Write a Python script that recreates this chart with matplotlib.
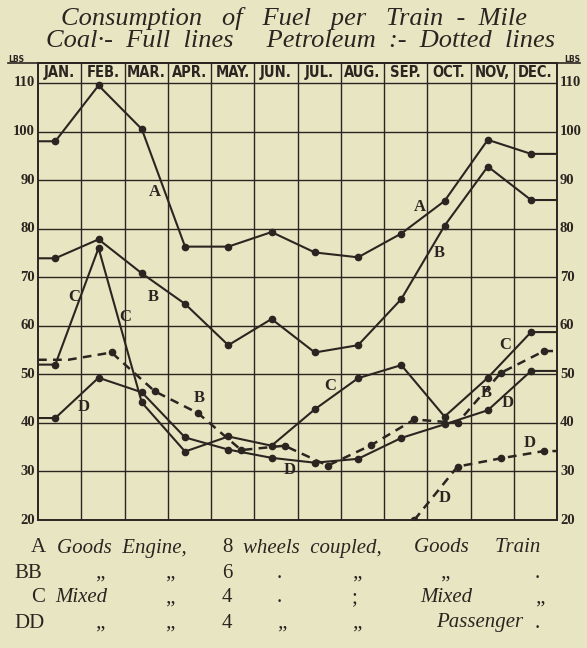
import matplotlib

matplotlib.use("Agg")
import matplotlib.pyplot as plt
import numpy as np

W, H = 587, 648
PAPER = "#e8e6c2"
INK = "#2a2521"

MONTHS = ["JAN.", "FEB.", "MAR.", "APR.", "MAY.", "JUN.",
          "JUL.", "AUG.", "SEP.", "OCT.", "NOV,", "DEC."]
Y_TICKS = [20, 30, 40, 50, 60, 70, 80, 90, 100, 110]

# coal, lbs per train-mile
coal_a = [98.0, 109.5, 100.5, 76.3, 76.3, 79.3, 75.1, 74.1, 79.0, 85.7, 98.3, 95.4]
coal_b = [73.9, 77.8, 70.8, 64.5, 56.0, 61.4, 54.5, 56.0, 65.5, 80.6, 92.8, 85.9]
coal_c = [52.0, 76.0, 44.2, 34.1, 37.2, 35.3, 42.8, 49.2, 51.9, 41.3, 49.3, 58.7]
coal_d = [41.0, 49.3, 46.3, 37.0, 34.5, 32.8, 31.8, 32.6, 36.9, 39.7, 42.6, 50.7]
# petroleum, lbs per train-mile
petrol_b = [53.0, 54.5, 46.5, 42.0, 34.4, 35.3, 31.2, 35.4, 40.7, 40.0, 50.3, 54.8]
petrol_d_months = ["SEP.", "OCT.", "NOV,", "DEC."]
petrol_d = [20.0, 31.0, 32.7, 34.2]

plt.rcParams["font.family"] = ["Liberation Serif", "DejaVu Serif"]

fig = plt.figure(figsize=(W / 100, H / 100), dpi=100, facecolor=PAPER)


def fx(px):
    return px / W


def fy(py):
    return 1 - py / H


ax = fig.add_axes([fx(38), fy(520), (557 - 38) / W, (520 - 63) / H])
ax.set_facecolor(PAPER)
ax.set_xlim(0, 12)
ax.set_ylim(20, 110 + 20 / 4.856)
ax.set_xticks([])
ax.set_yticks([])
for sp in ax.spines.values():
    sp.set_color(INK)
    sp.set_linewidth(1.4)

# ruled grid: one column per month, 10 lb rows, header band above 110
ax.hlines(Y_TICKS[1:], 0, 12, color=INK, lw=1.0, zorder=1)
ax.vlines(np.arange(1, 12), 20, ax.get_ylim()[1], color=INK, lw=1.0, zorder=1)
header_y = (110 + ax.get_ylim()[1]) / 2
for i, m in enumerate(MONTHS):
    ax.text(i + 0.5, header_y, m, ha="center", va="center", fontsize=10.5,
            fontweight="bold", family="DejaVu Sans", fontstretch="condensed",
            color=INK)

month_idx = {m: i for i, m in enumerate(MONTHS)}
coal_x = np.arange(12) + 0.4
petrol_x = np.arange(12) + 0.7


def extend(x, y, left=True):
    xs = ([0.0] if left else []) + list(x) + [12.0]
    ys = ([y[0]] if left else []) + list(y) + [y[-1]]
    return xs, ys


for series in (coal_a, coal_b, coal_c, coal_d):
    xs, ys = extend(coal_x, series)
    ax.plot(xs, ys, color=INK, lw=1.5, zorder=3)
    ax.plot(coal_x, series, "o", color=INK, ms=4.5, zorder=4)

xs, ys = extend(petrol_x, petrol_b)
ax.plot(xs, ys, color=INK, lw=1.8, ls=(0, (3.5, 2.5)), zorder=3)
ax.plot(petrol_x[1:], petrol_b[1:], "o", color=INK, ms=4.5, zorder=4)

pd_x = [petrol_x[month_idx[m]] for m in petrol_d_months]
xs, ys = extend(pd_x, petrol_d, left=False)
ax.plot(xs, ys, color=INK, lw=1.8, ls=(0, (3.5, 2.5)), zorder=3)
ax.plot(pd_x, petrol_d, "o", color=INK, ms=4.5, zorder=4)

# curve letters
curve_labels = [
    ("A", 2.71, 87.6), ("A", 8.83, 84.5), ("B", 9.28, 74.9), ("B", 2.67, 66.0),
    ("C", 0.83, 66.0), ("C", 2.01, 61.9), ("D", 1.05, 43.3), ("B", 3.73, 45.1),
    ("D", 5.83, 30.3), ("C", 6.75, 47.5), ("C", 10.8, 56.0), ("B", 10.37, 46.1),
    ("D", 10.87, 44.0), ("D", 11.38, 35.8), ("D", 9.41, 24.5),
]
for t, x, y in curve_labels:
    ax.text(x, y, t, ha="center", va="center", fontsize=12, fontweight="bold",
            color=INK, zorder=5)

# lbs scale both sides
for v in Y_TICKS:
    py = 520 - (v - 20) * 4.856
    fig.text(fx(35), fy(py), str(v), ha="right", va="center", fontsize=10.5,
             fontweight="bold", color=INK)
    fig.text(fx(560), fy(py), str(v), ha="left", va="center", fontsize=10.5,
             fontweight="bold", color=INK)
fig.text(fx(8), fy(59), "LBS", ha="left", va="center", fontsize=5.5,
         fontweight="bold", family="DejaVu Sans", color=INK)
fig.text(fx(580), fy(59), "LBS", ha="right", va="center", fontsize=5.5,
         fontweight="bold", family="DejaVu Sans", color=INK)
fig.add_artist(plt.Line2D([fx(8), fx(580)], [fy(63), fy(63)], color=INK, lw=1.2))

fig.text(fx(294), fy(18), "Consumption   of   Fuel   per   Train  -  Mile", ha="center",
         va="center", fontsize=19, style="italic", color=INK)
fig.text(fx(300), fy(41), "Coal\u00b7-  Full  lines     Petroleum  :-  Dotted  lines",
         ha="center", va="center", fontsize=19, style="italic", color=INK)

# key to the curves
rows = [
    (548, [("A", 31, "n"), ("Goods  Engine,", 57, "i"), ("8", 222, "n"),
           ("wheels  coupled,", 243, "i"), ("Goods     Train", 414, "i")]),
    (573, [("BB", 14, "n"), ("\u201e", 95, "n"), ("\u201e", 165, "n"), ("6", 222, "n"),
           (".", 277, "n"), ("\u201e", 352, "n"), ("\u201e", 440, "n"), (".", 535, "n")]),
    (598, [("C", 31, "n"), ("Mixed", 55, "i"), ("\u201e", 165, "n"), ("4", 222, "n"),
           (".", 277, "n"), (";", 352, "n"), ("Mixed", 420, "i"), ("\u201e", 535, "n")]),
    (623, [("DD", 14, "n"), ("\u201e", 95, "n"), ("\u201e", 165, "n"), ("4", 222, "n"),
           ("\u201e", 277, "n"), ("\u201e", 352, "n"), ("Passenger", 436, "i"), (".", 535, "n")]),
]
for py, items in rows:
    for txt, px, kind in items:
        if kind == "i":
            fig.text(fx(px), fy(py), txt, ha="left", va="center", fontsize=15,
                     style="italic", color=INK)
        else:
            fig.text(fx(px), fy(py), txt, ha="left", va="center", fontsize=15,
                     color=INK)

fig.savefig("out.png", dpi=100, facecolor=PAPER)
